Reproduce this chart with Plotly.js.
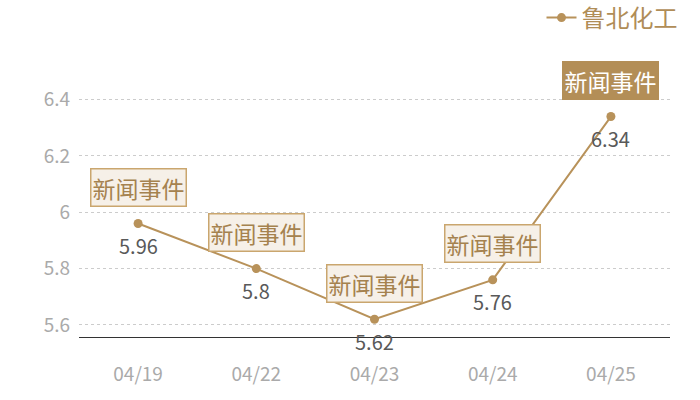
<!DOCTYPE html>
<html>
<head>
<meta charset="utf-8">
<script src="https://cdn.plot.ly/plotly-3.0.1.min.js"></script>
<style>
  html, body { margin: 0; padding: 0; background: #fff; }
  #chart { width: 700px; height: 400px; }
</style>
</head>
<body>
<div id="chart"></div>
<script>
// data
const dates = ['04/19', '04/22', '04/23', '04/24', '04/25'];
const prices = [5.96, 5.8, 5.62, 5.76, 6.34];
const priceLabels = ['5.96', '5.8', '5.62', '5.76', '6.34'];
const eventText = ['新闻事件', '新闻事件', '新闻事件', '新闻事件', '新闻事件'];
const highlighted = [false, false, false, false, true];
const seriesName = '鲁北化工';

const gold = '#b8925a';
const font = '"Noto Sans CJK SC", "Noto Sans", sans-serif';

const trace = {
  x: dates,
  y: prices,
  type: 'scatter',
  mode: 'lines+markers',
  name: seriesName,
  line: { color: gold, width: 2 },
  marker: { color: gold, size: 9 },
  cliponaxis: false
};

// price labels under each point
const valueNotes = dates.map((d, i) => ({
  x: d, y: prices[i], xref: 'x', yref: 'y',
  text: priceLabels[i],
  showarrow: false,
  yshift: -22,
  font: { family: font, size: 20, color: '#595959' }
}));

// event boxes above each point
const eventNotes = dates.map((d, i) => ({
  x: d, y: prices[i], xref: 'x', yref: 'y',
  text: eventText[i],
  showarrow: false,
  yshift: 36,
  font: { family: font, size: 23, color: highlighted[i] ? '#fff' : '#a5824f' },
  bgcolor: highlighted[i] ? '#b38e57' : '#f6f0e8',
  bordercolor: highlighted[i] ? '#b38e57' : '#caa66e',
  borderwidth: 1.5,
  borderpad: 1
}));

const layout = {
  width: 700,
  height: 400,
  margin: { l: 79, r: 30, t: 56, b: 63 },
  paper_bgcolor: '#fff',
  plot_bgcolor: '#fff',
  font: { family: font },
  showlegend: true,
  legend: {
    xref: 'container', yref: 'container',
    x: 0.975, xanchor: 'right',
    y: 0.955, yanchor: 'middle',
    orientation: 'h',
    itemwidth: 30,
    font: { family: font, size: 24, color: '#b08d57' },
    bgcolor: 'rgba(0,0,0,0)'
  },
  xaxis: {
    type: 'category',
    range: [-0.5, 4.5],
    showgrid: false,
    zeroline: false,
    showline: true,
    linecolor: '#333',
    linewidth: 1,
    ticks: '',
    ticklen: 0,
    ticklabelstandoff: 20,
    tickfont: { family: font, size: 19, color: '#aaa' },
    automargin: false
  },
  yaxis: {
    range: [5.557, 6.555],
    tickvals: [5.6, 5.8, 6, 6.2, 6.4],
    ticktext: ['5.6', '5.8', '6', '6.2', '6.4'],
    showgrid: true,
    gridcolor: '#cccccc',
    griddash: 'dot',
    gridwidth: 1,
    zeroline: false,
    showline: false,
    ticks: '',
    ticklabelstandoff: 8,
    tickfont: { family: font, size: 19, color: '#aaa' },
    automargin: false
  },
  annotations: valueNotes.concat(eventNotes)
};

Plotly.newPlot('chart', [trace], layout, { displayModeBar: false, staticPlot: true });
</script>
</body>
</html>
